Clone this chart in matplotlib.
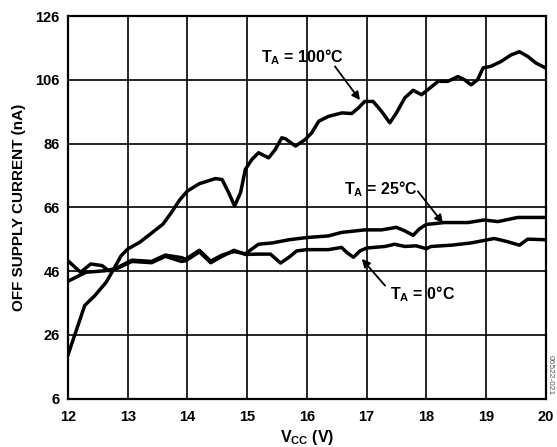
import matplotlib
matplotlib.use("Agg")
import matplotlib.pyplot as plt
import numpy as np

plt.rcParams['font.family'] = ['Liberation Sans', 'DejaVu Sans']
plt.rcParams['font.weight'] = 'bold'
plt.rcParams['mathtext.fontset'] = 'custom'
plt.rcParams['mathtext.rm'] = 'Liberation Sans:bold'
plt.rcParams['mathtext.bf'] = 'Liberation Sans:bold'
plt.rcParams['mathtext.it'] = 'Liberation Sans:bold'

# T_A = 100 C
vcc_100 = [12.0, 12.11, 12.28, 12.45, 12.64, 12.75, 12.89, 13.0, 13.2, 13.42, 13.59, 13.73,
           13.87, 14.0, 14.2, 14.47, 14.58, 14.69, 14.79, 14.89, 14.97, 15.08, 15.19, 15.36,
           15.47, 15.58, 15.64, 15.81, 15.97, 16.08, 16.2, 16.36, 16.59, 16.75, 16.86, 16.97,
           17.11, 17.25, 17.39, 17.5, 17.64, 17.78, 17.92, 18.06, 18.2, 18.36, 18.53, 18.64,
           18.75, 18.86, 18.95, 19.08, 19.25, 19.42, 19.56, 19.7, 19.84, 20.0]
i_100 = [19.7, 25.8, 35.2, 38.3, 42.5, 46.1, 50.8, 52.9, 55.0, 58.2, 60.7, 64.3,
         68.3, 71.1, 73.4, 75.0, 74.7, 70.6, 66.4, 70.6, 77.9, 81.0, 83.1, 81.5,
         84.1, 87.8, 87.5, 85.2, 87.2, 89.3, 93.0, 94.5, 95.6, 95.4, 97.1, 99.2,
         99.2, 96.1, 92.5, 95.6, 100.3, 102.7, 101.3, 103.4, 105.5, 105.5, 107.0, 106.0,
         104.4, 106.0, 109.7, 110.2, 111.7, 113.8, 114.8, 113.3, 111.2, 109.7]

# T_A = 25 C
vcc_25 = [12.0, 12.3, 12.63, 12.8, 13.07, 13.4, 13.63, 13.9, 13.97, 14.2, 14.39, 14.58,
          14.78, 14.97, 15.19, 15.42, 15.7, 16.0, 16.36, 16.58, 16.97, 17.25, 17.5, 17.64,
          17.78, 17.89, 18.0, 18.3, 18.7, 18.97, 19.2, 19.53, 20.0]
i_25 = [42.8, 45.6, 46.1, 46.8, 49.4, 49.0, 51.0, 50.2, 49.7, 52.5, 49.1, 51.0,
        52.1, 51.4, 54.4, 54.8, 55.8, 56.5, 57.0, 58.1, 58.9, 58.9, 59.7, 58.6,
        57.2, 59.3, 60.6, 61.2, 61.2, 62.0, 61.5, 62.8, 62.8]

# T_A = 0 C
vcc_0 = [12.0, 12.21, 12.38, 12.57, 12.68, 12.8, 13.07, 13.4, 13.63, 13.9, 13.97, 14.2,
         14.39, 14.58, 14.78, 14.97, 15.19, 15.39, 15.56, 15.7, 15.83, 16.0, 16.36, 16.58,
         16.67, 16.78, 16.89, 17.0, 17.31, 17.47, 17.64, 17.83, 18.0, 18.08, 18.42, 18.75,
         19.14, 19.36, 19.56, 19.7, 20.0]
i_0 = [49.2, 45.6, 48.2, 47.7, 46.1, 46.6, 49.0, 48.6, 50.6, 49.0, 49.2, 52.0,
       48.6, 50.6, 52.5, 51.2, 51.3, 51.3, 48.5, 50.3, 52.3, 52.7, 52.7, 53.4,
       51.8, 50.3, 52.3, 53.2, 53.7, 54.4, 53.7, 53.9, 53.0, 53.7, 54.1, 54.8,
       56.2, 55.2, 54.1, 56.0, 55.8]

xticks = [12, 13, 14, 15, 16, 17, 18, 19, 20]
yticks = [6, 26, 46, 66, 86, 106, 126]

fig = plt.figure(figsize=(5.57, 4.47), dpi=100)
ax = fig.add_axes([0.1221, 0.1085, 0.8576, 0.8557])

for x, y in [(vcc_100, i_100), (vcc_25, i_25), (vcc_0, i_0)]:
    ax.plot(x, y, color='black', lw=2.5, solid_joinstyle='round', zorder=3)

ax.set_xlim(12, 20)
ax.set_ylim(6, 126)
ax.set_xticks(xticks)
ax.set_yticks(yticks)
ax.tick_params(length=0, labelsize=10.5)
ax.tick_params(axis='x', pad=8)
ax.tick_params(axis='y', pad=6)
ax.grid(True, color='black', lw=1.2)
for s in ax.spines.values():
    s.set_linewidth(1.6)

ax.set_xlabel(r'V$_{\mathrm{CC}}$ (V)', fontsize=11.5, fontweight='bold', labelpad=3)
ax.set_ylabel('OFF SUPPLY CURRENT (nA)', fontsize=11, fontweight='bold', labelpad=7)

# labels and arrows
labels = [r'T$_{\mathrm{A}}$ = 100°C', r'T$_{\mathrm{A}}$ = 25°C', r'T$_{\mathrm{A}}$ = 0°C']
label_pos = [(15.24, 113.2), (16.63, 71.6), (17.39, 38.8)]
arrow_from = [(16.47, 110.2), (17.86, 71.0), (17.31, 41.4)]
arrow_to = [(16.89, 99.6), (18.28, 61.0), (16.92, 49.8)]

for txt, p, a, b in zip(labels, label_pos, arrow_from, arrow_to):
    ax.text(p[0], p[1], txt, fontsize=11.5, fontweight='bold', ha='left', va='center',
            zorder=5)
    ax.annotate('', xy=b, xytext=a,
                arrowprops=dict(arrowstyle='-|>', color='black', lw=1.3,
                                mutation_scale=12, shrinkA=0, shrinkB=0), zorder=5)

fig.text(0.9885, 0.161, '06522-021', rotation=270, fontsize=6, color='#555555',
         fontweight='normal', ha='center', va='center')

fig.savefig('out.png', dpi=100)
